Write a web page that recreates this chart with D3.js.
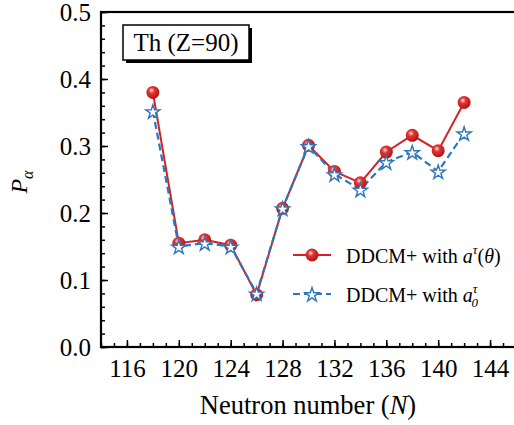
<!DOCTYPE html>
<html>
<head>
<meta charset="utf-8">
<script src="https://cdn.jsdelivr.net/npm/d3@7"></script>
<style>
  body { margin: 0; background: #fff; }
</style>
</head>
<body>
<div id="chart"></div>
<script>
// Data
const neutrons = [118, 120, 122, 124, 126, 128, 130, 132, 134, 136, 138, 140, 142];
const pTheta = [0.380, 0.155, 0.160, 0.152, 0.078, 0.207, 0.301, 0.262, 0.245, 0.291, 0.316, 0.293, 0.365];
const pZero = [0.352, 0.150, 0.155, 0.150, 0.080, 0.207, 0.300, 0.258, 0.235, 0.276, 0.291, 0.262, 0.319];
const xTicks = [116, 120, 124, 128, 132, 136, 140, 144];
const yTicks = [0.0, 0.1, 0.2, 0.3, 0.4, 0.5];

const W = 514, H = 425;
const M = { left: 101, top: 12, right: -2, bottom: 78 };
const SERIF = 'Liberation Serif';

const svg = d3.select('#chart').append('svg')
    .attr('width', W).attr('height', H);

const defs = svg.append('defs');
const grad = defs.append('radialGradient')
    .attr('id', 'ball').attr('cx', '40%').attr('cy', '35%').attr('r', '65%');
grad.append('stop').attr('offset', '0%').attr('stop-color', '#ffdede');
grad.append('stop').attr('offset', '35%').attr('stop-color', '#e03434');
grad.append('stop').attr('offset', '100%').attr('stop-color', '#b51414');

const x = d3.scaleLinear().domain([114, 146]).range([M.left, W - M.right]);
const y = d3.scaleLinear().domain([0, 0.5]).range([H - M.bottom, M.top]);

const red = '#d42222', blue = '#2b76c0';

// axes: ticks pointing inward
const xAxis = d3.axisBottom(x).tickValues(xTicks).tickSize(-7).tickPadding(12)
    .tickFormat(d3.format('d'));
const xMinor = d3.axisBottom(x).tickValues(d3.range(114, 147, 1)).tickSize(-4).tickFormat('');
const yAxis = d3.axisLeft(y).tickValues(yTicks).tickSize(-7).tickPadding(10)
    .tickFormat(d3.format('.1f'));
const yMinor = d3.axisLeft(y).tickValues(d3.range(0, 0.501, 0.02)).tickSize(-4).tickFormat('');

function styleAxis(g) {
    g.attr('font-family', null);
    g.select('.domain').remove();
    g.selectAll('line').attr('stroke', '#000').attr('stroke-width', 1.5);
    g.selectAll('text').attr('fill', '#000')
        .style('font-family', SERIF).style('font-size', '25px');
}

svg.append('g').attr('transform', `translate(0,${H - M.bottom})`).call(xMinor).call(styleAxis);
svg.append('g').attr('transform', `translate(0,${H - M.bottom})`).call(xAxis).call(styleAxis);
svg.append('g').attr('transform', `translate(${M.left},0)`).call(yMinor).call(styleAxis);
svg.append('g').attr('transform', `translate(${M.left},0)`).call(yAxis).call(styleAxis);

// frame
svg.append('rect')
    .attr('x', M.left).attr('y', M.top)
    .attr('width', x(146) - M.left).attr('height', y(0) - M.top)
    .attr('fill', 'none').attr('stroke', '#000').attr('stroke-width', 2.2);

// lines
const line = (vals) => d3.line().x((d, i) => x(neutrons[i])).y(d => y(d))(vals);

svg.append('path').attr('d', line(pTheta))
    .attr('fill', 'none').attr('stroke', red).attr('stroke-width', 2);
svg.append('path').attr('d', line(pZero))
    .attr('fill', 'none').attr('stroke', blue).attr('stroke-width', 2.2)
    .attr('stroke-dasharray', '7,4');

// markers
const star = d3.symbol().type(d3.symbolStar).size(62);

svg.selectAll('.ball').data(pTheta).enter().append('circle')
    .attr('class', 'ball')
    .attr('cx', (d, i) => x(neutrons[i])).attr('cy', d => y(d)).attr('r', 6.5)
    .attr('fill', 'url(#ball)');

svg.selectAll('.star').data(pZero).enter().append('path')
    .attr('class', 'star')
    .attr('d', star)
    .attr('transform', (d, i) => `translate(${x(neutrons[i])},${y(d) + 1})`)
    .attr('fill', '#fff').attr('stroke', blue).attr('stroke-width', 1.4);

// helper for serif text
const txt = (sel, size) => sel.append('text')
    .style('font-family', SERIF).style('font-size', size + 'px').attr('fill', '#000');

// label box with shadow
svg.append('rect').attr('x', 126).attr('y', 28).attr('width', 126).attr('height', 35).attr('fill', '#000');
svg.append('rect').attr('x', 123).attr('y', 25).attr('width', 126).attr('height', 35)
    .attr('fill', '#fff').attr('stroke', '#000').attr('stroke-width', 1.5);
txt(svg, 25).attr('x', 186).attr('y', 51).attr('text-anchor', 'middle').text('Th (Z=90)');

// legend
const legend = svg.append('g');
const lx0 = 293, lx1 = 331, tx = 346;
legend.append('line').attr('x1', lx0).attr('x2', lx1).attr('y1', 255).attr('y2', 255)
    .attr('stroke', red).attr('stroke-width', 2);
legend.append('circle').attr('cx', (lx0 + lx1) / 2).attr('cy', 255).attr('r', 6.5).attr('fill', 'url(#ball)');
const t1 = txt(legend, 20).attr('x', tx).attr('y', 263);
t1.append('tspan').text('DDCM+ with ');
t1.append('tspan').style('font-style', 'italic').text('a');
t1.append('tspan').style('font-style', 'italic').style('font-size', '13px').attr('dy', -9).text('τ');
t1.append('tspan').attr('dy', 9).text('(');
t1.append('tspan').style('font-style', 'italic').text('θ');
t1.append('tspan').text(')');

legend.append('line').attr('x1', lx0).attr('x2', lx1).attr('y1', 294).attr('y2', 294)
    .attr('stroke', blue).attr('stroke-width', 2.2).attr('stroke-dasharray', '7,4');
legend.append('path').attr('d', star)
    .attr('transform', `translate(${(lx0 + lx1) / 2},295)`)
    .attr('fill', '#fff').attr('stroke', blue).attr('stroke-width', 1.4);
const t2 = txt(legend, 20).attr('x', tx).attr('y', 302);
t2.append('tspan').text('DDCM+ with ');
t2.append('tspan').style('font-style', 'italic').text('a');
t2.append('tspan').style('font-style', 'italic').style('font-size', '13px').attr('dy', -9).text('τ');
t2.append('tspan').style('font-style', 'italic').style('font-size', '13px').attr('dx', -6).attr('dy', 14).text('0');

// axis titles
const xt = txt(svg, 26.5).attr('x', 308).attr('y', 414).attr('text-anchor', 'middle');
xt.append('tspan').text('Neutron number (');
xt.append('tspan').style('font-style', 'italic').text('N');
xt.append('tspan').text(')');

const yt = txt(svg, 24).attr('transform', 'translate(27,182) rotate(-90)').attr('text-anchor', 'middle');
yt.append('tspan').style('font-style', 'italic').text('P');
yt.append('tspan').style('font-style', 'italic').style('font-size', '16px').attr('dy', 6).text('α');
</script>
</body>
</html>
